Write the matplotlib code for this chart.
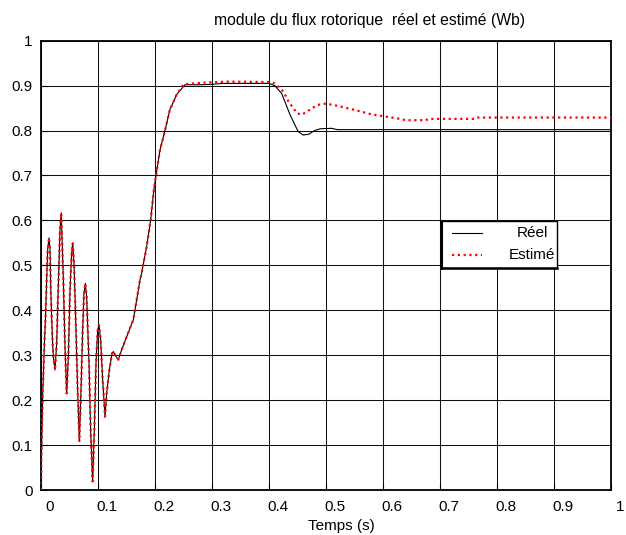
import matplotlib
matplotlib.use("Agg")
import matplotlib.pyplot as plt
import matplotlib.transforms as mtransforms
from matplotlib.lines import Line2D
from matplotlib.patches import Rectangle

plt.rcParams['font.family'] = ['Liberation Sans', 'DejaVu Sans']

# ---- data ----
t_common = [0.0, 0.0005, 0.0029, 0.0058, 0.0082, 0.0099, 0.0117, 0.014, 0.0158, 0.0175,
            0.0199, 0.0216, 0.0246, 0.0275, 0.0298, 0.0316, 0.0333, 0.0355, 0.0374, 0.0392,
            0.0421, 0.045, 0.048, 0.0509, 0.0538, 0.0556, 0.0579, 0.0614, 0.0643, 0.0673,
            0.0702, 0.0731, 0.0754, 0.0778, 0.0801, 0.0842, 0.0871, 0.0906, 0.0936, 0.0965,
            0.0994, 0.1018, 0.1047, 0.1082, 0.1123, 0.1152, 0.1199, 0.1246, 0.1269, 0.1316,
            0.1357, 0.1415, 0.1503, 0.162, 0.1737, 0.1766, 0.1854, 0.1924, 0.198, 0.2018,
            0.2088, 0.2175, 0.226, 0.238]
flux_common = [0.0, 0.059, 0.208, 0.319, 0.394, 0.468, 0.535, 0.561, 0.535, 0.43,
               0.341, 0.297, 0.267, 0.327, 0.43, 0.505, 0.579, 0.617, 0.542, 0.468,
               0.319, 0.215, 0.297, 0.445, 0.527, 0.549, 0.505, 0.356, 0.223, 0.108,
               0.223, 0.356, 0.438, 0.46, 0.43, 0.282, 0.134, 0.019, 0.134, 0.282,
               0.356, 0.367, 0.334, 0.245, 0.163, 0.215, 0.267, 0.304, 0.308, 0.297,
               0.29, 0.312, 0.341, 0.379, 0.468, 0.483, 0.542, 0.601, 0.668, 0.70,
               0.757, 0.80, 0.846, 0.88]

t_reel_tail = [0.2526, 0.28, 0.30, 0.32, 0.40, 0.41, 0.422, 0.437, 0.451, 0.46,
               0.47, 0.48, 0.49, 0.51, 0.52, 1.0]
flux_reel_tail = [0.902, 0.902, 0.903, 0.905, 0.905, 0.90, 0.883, 0.835, 0.798, 0.79,
                  0.792, 0.80, 0.804, 0.805, 0.802, 0.802]

t_est_tail = [0.25, 0.27, 0.29, 0.31, 0.33, 0.40, 0.41, 0.425, 0.434, 0.449,
              0.457, 0.47, 0.485, 0.50, 0.52, 0.55, 0.58, 0.61, 0.63, 0.64,
              0.675, 0.68, 0.76, 0.765, 1.0]
flux_est_tail = [0.903, 0.905, 0.907, 0.908, 0.909, 0.908, 0.905, 0.887, 0.865, 0.839,
                 0.835, 0.845, 0.857, 0.86, 0.855, 0.846, 0.836, 0.83, 0.826, 0.823,
                 0.823, 0.826, 0.826, 0.829, 0.829]

t_reel = t_common + t_reel_tail
flux_reel = flux_common + flux_reel_tail
t_est = t_common + t_est_tail
flux_est = flux_common + flux_est_tail

xticks = [0, 0.1, 0.2, 0.3, 0.4, 0.5, 0.6, 0.7, 0.8, 0.9, 1]
xticklabels = ['0', '0.1', '0.2', '0.3', '0.4', '0.5', '0.6', '0.7', '0.8', '0.9', '1']
yticks = [0, 0.1, 0.2, 0.3, 0.4, 0.5, 0.6, 0.7, 0.8, 0.9, 1]
yticklabels = ['0', '0.1', '0.2', '0.3', '0.4', '0.5', '0.6', '0.7', '0.8', '0.9', '1']
legend_labels = ['Réel', 'Estimé']

# ---- figure ----
fig = plt.figure(figsize=(6.26, 5.35), dpi=100)
ax = fig.add_axes([41 / 626, 1 - 490 / 535, 570 / 626, 449.3 / 535])

ax.plot(t_reel, flux_reel, color='black', lw=0.8, zorder=3)
ax.plot(t_est, flux_est, color='red', lw=1.6, linestyle=(0, (1, 1.6)),
        dash_capstyle='butt', zorder=4)

ax.set_xlim(0, 1)
ax.set_ylim(0, 1)
ax.set_xticks(xticks)
ax.set_xticklabels(xticklabels)
ax.set_yticks(yticks)
ax.set_yticklabels(yticklabels)
ax.tick_params(axis='both', direction='in', length=4, width=0.8, labelsize=11)
ax.tick_params(axis='x', pad=7)
ax.tick_params(axis='y', pad=6)
ax.grid(True, color='#111111', lw=0.75)
ax.set_axisbelow(True)
for s in ax.spines.values():
    s.set_linewidth(1.3)

# MATLAB-like offset of the x tick labels
offset = mtransforms.ScaledTranslation(9 / 100, 0, fig.dpi_scale_trans)
for lab in ax.get_xticklabels():
    lab.set_transform(lab.get_transform() + offset)

fig.text(370 / 626, 1 - 20 / 535, 'module du flux rotorique  réel et estimé (Wb)',
         ha='center', va='center', fontsize=11.3)
fig.text(341 / 626, 1 - 526 / 535, 'Temps (s)', ha='center', va='center', fontsize=11)

# legend box (drawn manually, MATLAB style)
lx0, lx1 = (440.7 - 41) / 570, (557 - 41) / 570
ly0, ly1 = (490 - 267.7) / 449.3, (490 - 220.7) / 449.3
ax.add_patch(Rectangle((lx0, ly0), lx1 - lx0, ly1 - ly0, transform=ax.transAxes,
                       facecolor='white', edgecolor='black', lw=1.0, zorder=6))
ax.add_line(Line2D([lx0, lx0], [ly0, ly1], transform=ax.transAxes, color='black',
                   lw=2.2, zorder=7))
ax.add_line(Line2D([lx0, lx1], [ly0, ly0], transform=ax.transAxes, color='black',
                   lw=1.8, zorder=7))
hx0, hx1 = (452 - 41) / 570, (482 - 41) / 570
yr, ye = (490 - 233) / 449.3, (490 - 255) / 449.3
ax.add_line(Line2D([hx0, hx1], [yr, yr], transform=ax.transAxes, color='black',
                   lw=0.8, zorder=7))
ax.add_line(Line2D([hx0, hx1], [ye, ye], transform=ax.transAxes, color='red',
                   lw=1.6, linestyle=(0, (1, 1.6)), zorder=7))
tx = (532 - 41) / 570
ax.text(tx, yr, legend_labels[0], transform=ax.transAxes, ha='center', va='center',
        fontsize=11, zorder=8)
ax.text(tx, ye, legend_labels[1], transform=ax.transAxes, ha='center', va='center',
        fontsize=11, zorder=8)

fig.savefig('out.png', dpi=100)
